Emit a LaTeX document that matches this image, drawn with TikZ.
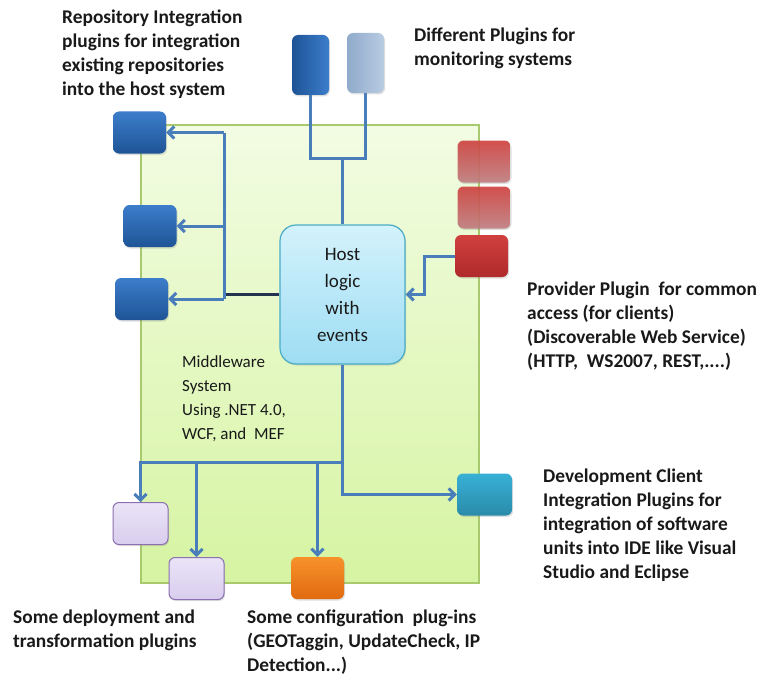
\documentclass[tikz,border=0pt]{standalone}
\usepackage{fontspec}
\setmainfont{Carlito}
\usetikzlibrary{arrows.meta,positioning,shadows}
\definecolor{mLine}{HTML}{4A7EBB}
\definecolor{mDark}{HTML}{22324F}
\definecolor{mGreenT}{HTML}{F2FCE3}
\definecolor{mGreenB}{HTML}{D6F4A2}
\definecolor{mGreenL}{HTML}{A9C96E}
\definecolor{mBlueT}{HTML}{3C7DCB}
\definecolor{mBlueB}{HTML}{1E5496}
\definecolor{mGreyT}{HTML}{B8CCE2}
\definecolor{mGreyB}{HTML}{90AACB}
\definecolor{mRedT}{HTML}{D0403E}
\definecolor{mRedB}{HTML}{B02A2C}
\definecolor{mRedF}{HTML}{C07E80}
\definecolor{mPurpT}{HTML}{EAE4F7}
\definecolor{mPurpB}{HTML}{D9CDEE}
\definecolor{mPurpD}{HTML}{8C6FB0}
\definecolor{mOrngT}{HTML}{F7922A}
\definecolor{mOrngB}{HTML}{E06A10}
\definecolor{mTealT}{HTML}{38B0D6}
\definecolor{mTealB}{HTML}{2A8BAA}
\definecolor{mHostT}{HTML}{D3F2FC}
\definecolor{mHostB}{HTML}{9EDDF3}
\definecolor{mHostL}{HTML}{4BACC6}
\tikzset{
  sysbox/.style = {draw=mGreenL, line width=1.5pt, top color=mGreenT, bottom color=mGreenB,
                   minimum width=338pt, minimum height=458pt},
  plg/.style    = {rounded corners=6pt, minimum width=53pt, minimum height=42pt, inner sep=0pt,
                   drop shadow={opacity=0.25, shadow xshift=1pt, shadow yshift=-1.5pt}},
  plgb/.style   = {plg, top color=mBlueT, bottom color=mBlueB},
  plgm/.style   = {plg, minimum width=37pt, minimum height=60pt, left color=mBlueB, right color=mBlueT},
  plgg/.style   = {plg, minimum width=37pt, minimum height=60pt, left color=mGreyB, right color=mGreyT},
  plgr/.style   = {plg, top color=mRedT, bottom color=mRedB},
  plgf/.style   = {plg, top color=mRedT, bottom color=mRedF, fill opacity=0.9},
  plgp/.style   = {plg, draw=mPurpD, line width=1pt, top color=mPurpT, bottom color=mPurpB},
  plgo/.style   = {plg, top color=mOrngT, bottom color=mOrngB},
  plgt/.style   = {plg, top color=mTealT, bottom color=mTealB},
  hostbox/.style= {draw=mHostL, line width=1.2pt, rounded corners=16pt, top color=mHostT,
                   bottom color=mHostB, minimum width=125pt, minimum height=139pt, align=center,
                   font=\fontsize{19}{27}\selectfont, text=black!90,
                   drop shadow={opacity=0.25, shadow xshift=1pt, shadow yshift=-1.5pt}},
  bus/.style    = {draw=mLine, line width=3pt},
  ar/.style     = {bus, -{Straight Barb[length=6pt,width=12pt]}},
  lbl/.style    = {font=\bfseries\fontsize{19.4}{24}\selectfont, text=black!90, align=left,
                   anchor=north west, inner sep=0pt},
  lblr/.style   = {lbl, font=\fontsize{17}{24}\selectfont},
}

\begin{document}
\begin{tikzpicture}[x=1pt, y=-1pt]
  \useasboundingbox (0,0) rectangle (762,682);

  % middleware system
  \node[sysbox] (sys) at (310,354) {};

  % plugins round the host
  \node[plgm] (mon1) at (310.5,65) {};
  \node[plgg] (mon2) at (365.5,63) {};
  \node[plgb] (repo1) at (139.5,132.5) {};
  \node[plgb] (repo2) at (150,226) {};
  \node[plgb] (repo3) at (141.5,299) {};
  \node[plgf] (prov1) at (484,161.5) {};
  \node[plgf] (prov2) at (484,207.5) {};
  \node[plgr] (prov3) at (481.5,256) {};
  \node[plgp, minimum width=55pt] (dep1) at (140.5,523.5) {};
  \node[plgp, minimum width=55pt] (dep2) at (196.5,578.5) {};
  \node[plgo] (conf) at (317.5,578) {};
  \node[plgt, minimum width=55pt] (dev) at (484.5,494.5) {};

  \node[hostbox] (host) at (342.5,294.5) {Host\\logic\\with\\events};

  % bus junctions
  \coordinate (jmon) at (342.5,158);
  \coordinate (jleft) at (224,294.5);
  \coordinate (jdown) at (342.5,462);

  % connectors
  \draw[bus] (mon1.south) |- (jmon) -| (mon2.south);
  \draw[bus] (jmon) -- (host.north);
  \draw[bus, draw=mDark] (host.west) -- (jleft);
  \draw[bus] (jleft |- repo1.east) -- (jleft |- repo3.east);
  \draw[ar] (jleft |- repo1.east) -- (repo1.east);
  \draw[ar] (jleft |- repo2.east) -- (repo2.east);
  \draw[ar] (jleft |- repo3.east) -- (repo3.east);
  \draw[ar] (prov3.west) -- ++(-30,0) |- (host.east);
  \draw[bus] (host.south) -- (jdown);
  \draw[ar] (jdown) -| (dep1.north);
  \draw[ar] (dep2.north |- jdown) -- (dep2.north);
  \draw[ar] (conf.north |- jdown) -- (conf.north);
  \draw[ar] (jdown) |- (dev.west);

  % labels
  \node[lbl] (repoLbl) at (62,10) {Repository Integration\\plugins for integration\\existing repositories\\into the host system};
  \node[lbl] (monLbl) at (414,27.5) {Different Plugins for\\monitoring systems};
  \node[lbl] (provLbl) at (527,281.5) {Provider Plugin~ for common\\access (for clients)\\(Discoverable Web Service)\\(HTTP,~ WS2007, REST,....)};
  \node[lbl] (devLbl) at (543,468.5) {Development Client\\Integration Plugins for\\integration of software\\units into IDE like Visual\\Studio and Eclipse};
  \node[lbl] (depLbl) at (13,609.5) {Some deployment and\\transformation plugins};
  \node[lbl] (confLbl) at (247,609.5) {Some configuration~ plug-ins\\(GEOTaggin, UpdateCheck, IP\\Detection...)};
  \node[lblr] (mwLbl) at (182,355) {Middleware\\System\\Using .NET 4.0,\\WCF, and~ MEF};
\end{tikzpicture}
\end{document}
